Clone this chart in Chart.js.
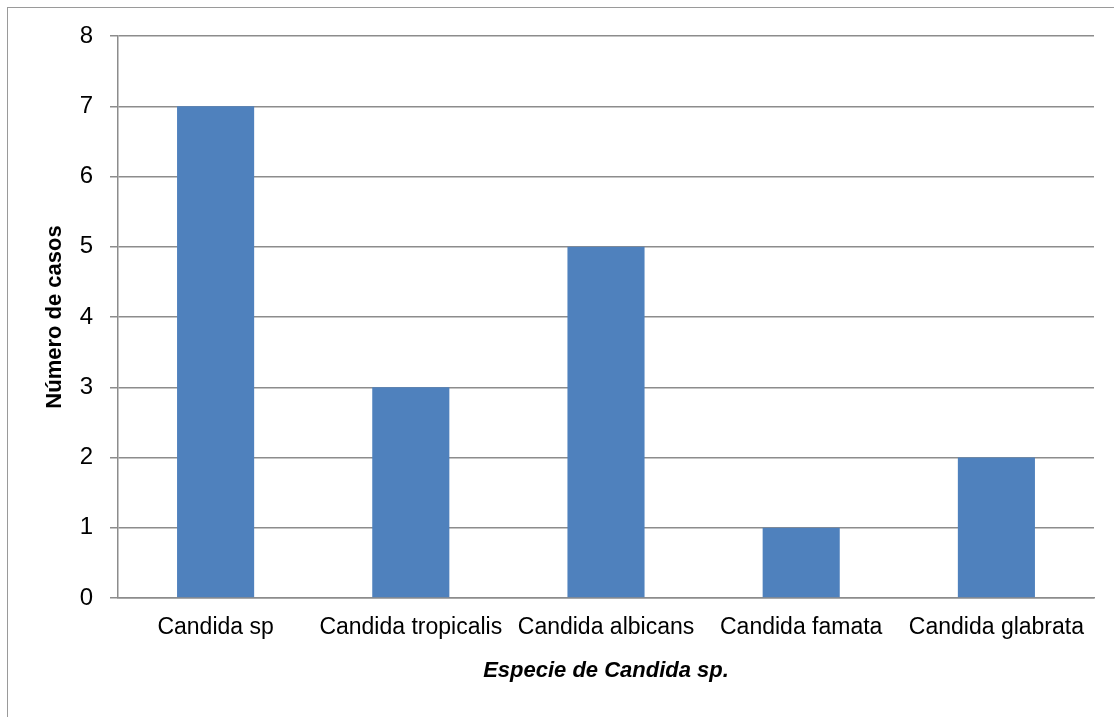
<!DOCTYPE html>
<html lang="es">
<head>
  <meta charset="UTF-8">
  <title>Especie de Candida sp.</title>
  <script src="https://cdn.jsdelivr.net/npm/chart.js"></script>
  <style>
    body {
      margin: 0;
      background: #fff;
    }

    .wrap {
      position: relative;
      width: 1114px;
      height: 717px;
      overflow: hidden;
    }

    /* frame of the chart object, only left and top edges fall inside the page */
    .frame {
      position: absolute;
      left: 7px;
      top: 7px;
      width: 1200px;
      height: 800px;
      border: 1.5px solid #9a9a9a;
      box-sizing: border-box;
    }

    canvas {
      position: absolute;
      left: 0;
      top: 0;
    }
  </style>
</head>
<body>
  <div class="wrap">
    <div class="frame"></div>
    <canvas id="candidaChart" width="1114" height="717"></canvas>
  </div>

  <script>
    const especies = ['Candida sp', 'Candida tropicalis', 'Candida albicans', 'Candida famata', 'Candida glabrata'];
    const casos = [7, 3, 5, 1, 2];
    const yTicks = [0, 1, 2, 3, 4, 5, 6, 7, 8];

    const lineGray = '#8c8c8c';
    const font = 'Liberation Sans, Arial, sans-serif';

    const ctx = document.getElementById('candidaChart').getContext('2d');

    new Chart(ctx, {
      type: 'bar',
      data: {
        labels: especies,
        datasets: [{
          label: 'Número de casos',
          data: casos,
          backgroundColor: '#4F81BD',
          borderWidth: 0,
          barPercentage: 0.395,
          categoryPercentage: 1.0,
        }],
      },
      options: {
        responsive: false,
        animation: false,
        layout: {
          padding: { top: 36, right: 20, left: 0, bottom: 0 },
        },
        plugins: {
          legend: { display: false },
          tooltip: { enabled: false },
        },
        scales: {
          x: {
            grid: { display: false, drawTicks: false },
            border: { display: true, color: lineGray, width: 1.5 },
            ticks: {
              color: '#000',
              padding: 16,
              maxRotation: 0,
              autoSkip: false,
              font: { family: font, size: 23 },
            },
            title: {
              display: true,
              text: 'Especie de Candida sp.',
              color: '#000',
              font: { family: font, size: 22, weight: 'bold', style: 'italic' },
              padding: { top: 0, bottom: 33 },
            },
            afterFit: scale => { scale.height = 119; },
          },
          y: {
            min: 0,
            max: 8,
            afterBuildTicks: scale => {
              scale.ticks = yTicks.map(v => ({ value: v }));
            },
            grid: {
              color: lineGray,
              lineWidth: 1.5,
              drawTicks: true,
              tickLength: 8,
            },
            border: { display: true, color: lineGray, width: 1.5 },
            ticks: {
              color: '#000',
              padding: 17,
              font: { family: font, size: 24 },
            },
            title: {
              display: true,
              text: 'Número de casos',
              color: '#000',
              font: { family: font, size: 22, weight: 'bold' },
              padding: { top: 42, bottom: 0 },
            },
            afterFit: scale => { scale.width = 118; },
          },
        },
      },
    });
  </script>
</body>
</html>
